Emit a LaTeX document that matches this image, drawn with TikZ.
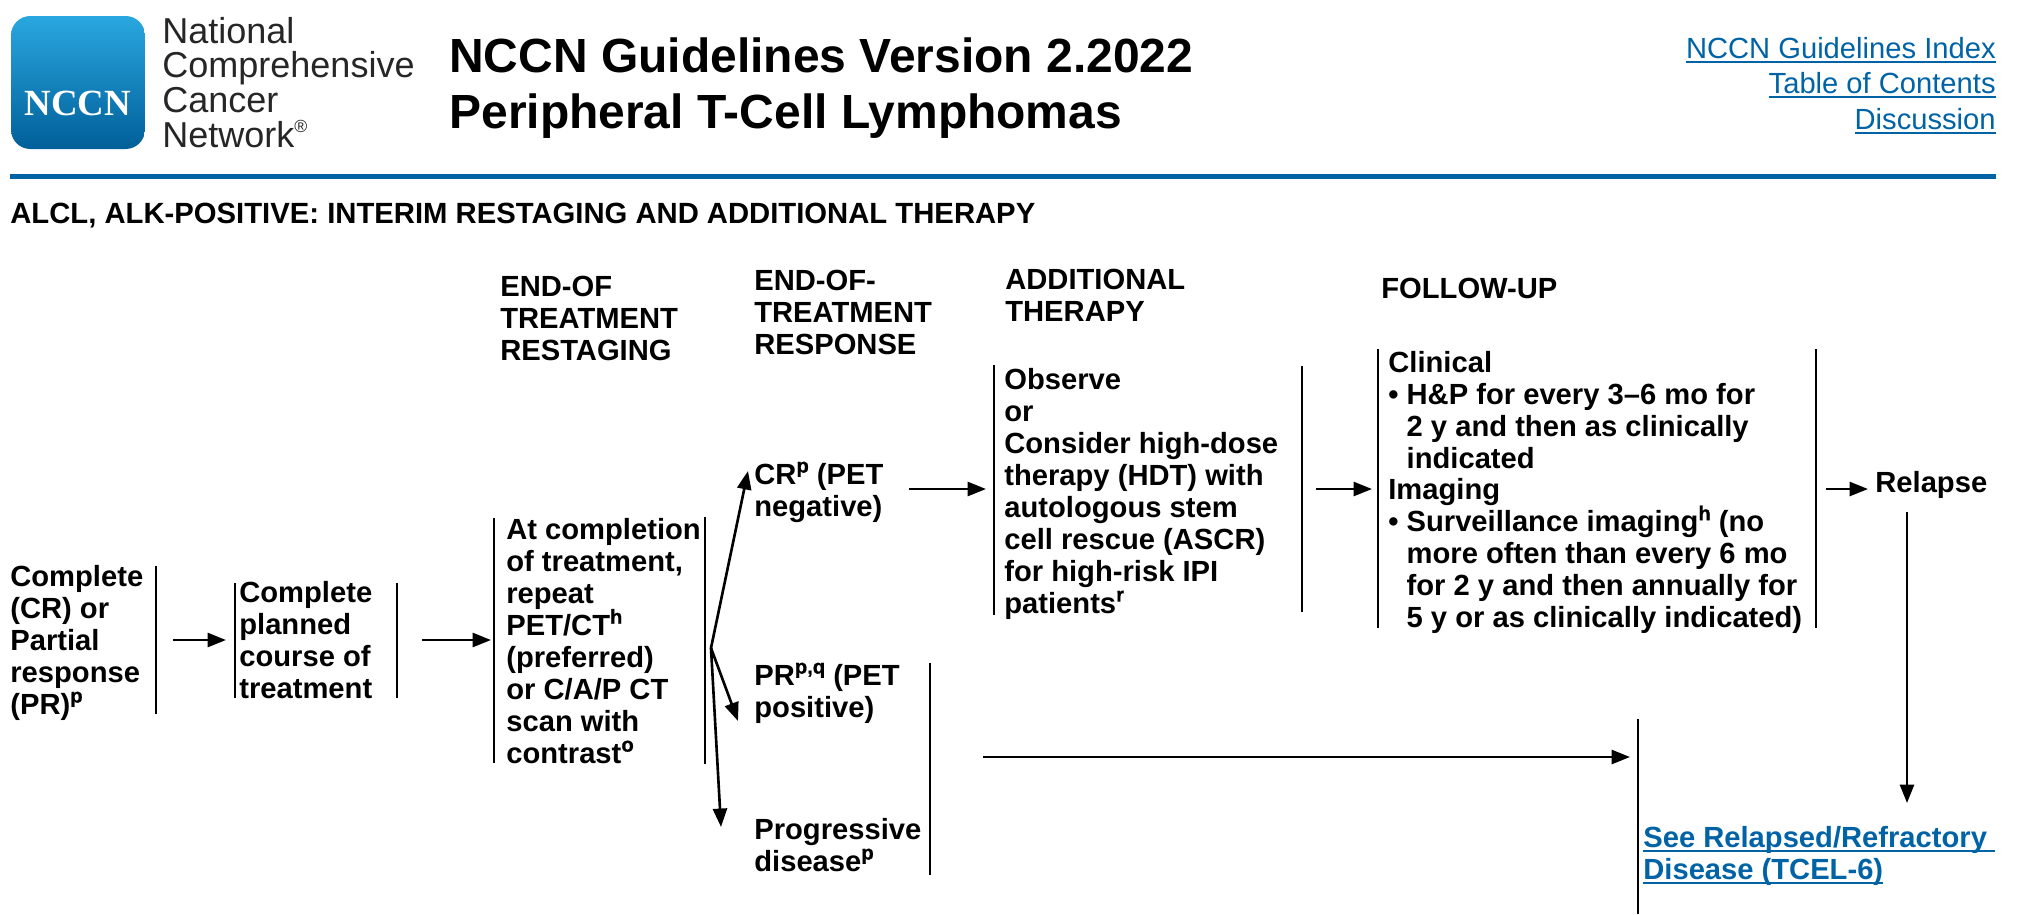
\documentclass[tikz,border=0pt]{standalone}
\usepackage{fontspec}
\setmainfont{Liberation Sans}
\newfontfamily\logofont{Liberation Serif}
\newfontfamily\supfont[FakeBold=0.8]{Liberation Sans}
\usetikzlibrary{arrows.meta}
\definecolor{nccnblue}{RGB}{0,99,166}
\definecolor{logotop}{RGB}{42,167,224}
\definecolor{logobot}{RGB}{0,95,153}
\newcommand{\sps}[1]{\smash{\raisebox{6.5pt}{\fontsize{11.5}{12}\supfont\selectfont #1}}}
\newcommand{\hang}{\phantom{\textbullet\ }}
\newcommand{\ul}[1]{\setbox0\hbox{#1}\rlap{\rule[-2.8pt]{\wd0}{1.1pt}}\box0}
\begin{document}
\begin{tikzpicture}[x=0.02cm,y=-0.02cm,>={Triangle[length=10.5pt,width=8pt]}]
    \tikzstyle{body}=[anchor=base west,inner sep=0pt,align=left,font=\fontsize{16.6}{18.2}\selectfont\bfseries]
    \tikzstyle{bar}=[line width=1.5pt]
    \tikzstyle{link}=[->,line width=1.5pt]
    \tikzstyle{toplink}=[anchor=base east,inner sep=0pt,text=nccnblue,font=\fontsize{16.6}{18}\selectfont]
    \tikzstyle{brand}=[anchor=base west,inner sep=0pt,text=black!85,font=\fontsize{20.5}{22}\selectfont]
    \tikzstyle{banner}=[anchor=base west,inner sep=0pt,font=\fontsize{27.3}{32}\selectfont\bfseries]

    \useasboundingbox (0,0) rectangle (2018,914);

    % Header
    \node[rounded corners=11pt,top color=logotop,bottom color=logobot,minimum width=134*0.5691pt,minimum height=133*0.5691pt,inner sep=0pt] (logo) at (78,82.5) {};
    \node[text=white,inner sep=0pt,font=\logofont\bfseries\fontsize{21}{22}\selectfont] (logoname) at (78,103) {NCCN};
    \node[brand] (brand-1) at (162,43) {National};
    \node[brand] (brand-2) at (162,77) {Comprehensive};
    \node[brand] (brand-3) at (162,112) {Cancer};
    \node[brand] (brand-4) at (162,147) {Network\raisebox{8pt}{\fontsize{10}{10}\selectfont\textregistered}};

    \node[banner] (title-1) at (449,72) {NCCN Guidelines Version 2.2022};
    \node[banner] (title-2) at (449,128) {Peripheral T-Cell Lymphomas};

    \node[toplink] (index) at (1996,58) {\ul{NCCN Guidelines Index}};
    \node[toplink] (contents) at (1996,93) {\ul{Table of Contents}};
    \node[toplink] (discussion) at (1996,129) {\ul{Discussion}};

    \fill[nccnblue] (10,173.5) rectangle (1996,178.5);

    \node[body,font=\fontsize{16.65}{18}\selectfont\bfseries] (heading) at (10,223) {ALCL, ALK-POSITIVE: INTERIM RESTAGING AND ADDITIONAL THERAPY};

    % Column heads
    \node[body] (head-restage) at (500,360) {END-OF\\TREATMENT\\RESTAGING};
    \node[body] (head-response) at (754,354) {END-OF-\\TREATMENT\\RESPONSE};
    \node[body] (head-therapy) at (1005,321) {ADDITIONAL\\THERAPY};
    \node[body] (head-follow) at (1381,298) {FOLLOW-UP};

    % Steps
    \node[body] (entry) at (10,714) {Complete\\(CR) or\\Partial\\response\\(PR)\sps{p}};
    \node[body] (course) at (239,698) {Complete\\planned\\course of\\treatment};
    \node[body] (restage) at (506,763) {At completion\\of treatment,\\repeat\\PET/CT\sps{h}\\(preferred)\\or C/A/P CT\\scan with\\contrast\sps{o}};
    \node[body] (cr) at (754,516) {CR\sps{p} (PET\\negative)};
    \node[body] (pr) at (754,717) {PR\sps{p,q} (PET\\positive)};
    \node[body] (pd) at (754,871) {Progressive\\disease\sps{p}};
    \node[body] (therapy) at (1004,613) {Observe\\or\\Consider high-dose\\therapy (HDT) with\\autologous stem\\cell rescue (ASCR)\\for high-risk IPI\\patients\sps{r}};
    \node[body,font=\fontsize{16.6}{18.1}\selectfont\bfseries] (follow) at (1388,627) {Clinical\\\textbullet\ H\&P for every 3--6 mo for\\\hang 2 y and then as clinically\\\hang indicated\\Imaging\\\textbullet\ Surveillance imaging\sps{h} (no\\\hang more often than every 6 mo\\\hang for 2 y and then annually for\\\hang 5 y or as clinically indicated)};
    \node[body] (relapse) at (1875,492) {Relapse};
    \node[body,text=nccnblue] (see) at (1643,879) {\ul{See Relapsed/Refractory\ }\\\ul{Disease (TCEL-6)}};

    % Side bars
    \foreach \name/\x/\top/\bot in {a/156/566/714,b/235/583/698,c/397/583/698,d/494/518/763,e/705/517/764,f/930/663/875,g/994/365/615,h/1302/366/612,i/1378/349/628,j/1816/349/628,k/1638/719/914}
    {
        \coordinate (bar-\name-t) at (\x,\top);
        \coordinate (bar-\name-b) at (\x,\bot);
        \draw[bar] (bar-\name-t) -- (bar-\name-b);
    }

    % Links
    \foreach \name/\xa/\ya/\xb/\yb in {entry/173/640/226/640,course/422/640/491/640,therapy/909/489/986/489,follow/1316/489/1372/489,relapse/1826/489/1868/489,long/983/757/1630/757,down/1907/512/1907/803}
    {
        \coordinate (from-\name) at (\xa,\ya);
        \coordinate (to-\name) at (\xb,\yb);
        \draw[link] (from-\name) -- (to-\name);
    }

    % Outgoing from the fork
    \coordinate (fork) at (711,648);
    \coordinate (to-cr) at (748,471);
    \coordinate (to-pr) at (738,721);
    \coordinate (to-pd) at (721,827);
    \foreach \y in {cr,pr,pd}
        \draw[link] (fork) -- (to-\y);
\end{tikzpicture}
\end{document}
